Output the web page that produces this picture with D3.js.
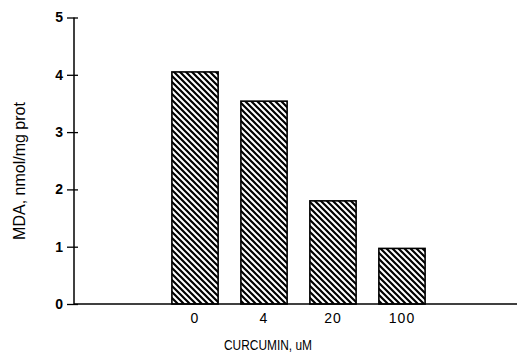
<!DOCTYPE html>
<html><head><meta charset="utf-8">
<script src="https://cdn.jsdelivr.net/npm/d3@7"></script>
<style>body{margin:0;background:#fff}svg{display:block}</style>
</head><body>
<script>
const categories = ["0", "4", "20", "100"];
const values = [4.05, 3.54, 1.8, 0.97];
const yTicks = [0, 1, 2, 3, 4, 5];
const xTitle = "CURCUMIN, uM";
const yTitle = "MDA, nmol/mg prot";

const W = 519, H = 355;
const svg = d3.select("body").append("svg").attr("width", W).attr("height", H);
const defs = svg.append("defs");
const pat = defs.append("pattern").attr("id", "hatch").attr("patternUnits", "userSpaceOnUse")
  .attr("width", 6).attr("height", 6);
pat.append("path").attr("d", "M-1,-1 L7,7 M-1,5 L1,7 M5,-1 L7,1")
  .attr("stroke", "#000").attr("stroke-width", 2.2);

const x0 = 74, x1 = 517, y0 = 304, y1 = 17.5;
const y = d3.scaleLinear().domain([0, 5]).range([y0, y1]);
const x = d3.scaleBand().domain(categories).range([165, 432]).paddingInner(0.33).paddingOuter(0.1);

const font = "Liberation Sans, Arial, sans-serif";

// bars
svg.selectAll("rect.bar").data(values).join("rect").attr("class", "bar")
  .attr("x", (d, i) => x(categories[i]))
  .attr("y", d => y(d))
  .attr("width", x.bandwidth())
  .attr("height", d => y0 - y(d))
  .attr("fill", "url(#hatch)")
  .attr("stroke", "#000").attr("stroke-width", 1.6);

// y axis
const ya = svg.append("g").attr("transform", `translate(${x0},0)`)
  .call(d3.axisLeft(y).tickValues(yTicks).tickFormat(d3.format("d")).tickSize(0).tickPadding(11));
ya.select(".domain").remove();
ya.selectAll(".tick line").attr("x1", -7).attr("x2", 4).attr("stroke", "#000").attr("stroke-width", 1.3);
ya.selectAll(".tick text").attr("font-family", font).attr("font-size", 14).attr("font-weight", "bold").attr("fill", "#000");
svg.append("line").attr("x1", x0).attr("x2", x0).attr("y1", y1).attr("y2", y0)
  .attr("stroke", "#000").attr("stroke-width", 1.5);

// x axis
svg.append("line").attr("x1", x0).attr("x2", x1).attr("y1", y0).attr("y2", y0)
  .attr("stroke", "#000").attr("stroke-width", 1.5);
const xa = svg.append("g").attr("transform", `translate(0,${y0})`)
  .call(d3.axisBottom(x).tickSize(0).tickPadding(9));
xa.select(".domain").remove();
xa.selectAll(".tick text").attr("font-family", font).attr("font-size", 14).attr("fill", "#000")
  .attr("letter-spacing", 1);

// titles
svg.append("text").attr("x", 268).attr("y", 350).attr("text-anchor", "middle")
  .attr("font-family", font).attr("font-size", 14).attr("fill", "#000")
  .attr("textLength", 88).attr("lengthAdjust", "spacingAndGlyphs").text(xTitle);
svg.append("text").attr("transform", "translate(25,171) rotate(-90)").attr("text-anchor", "middle")
  .attr("font-family", font).attr("font-size", 16).attr("fill", "#000").text(yTitle);
</script>
</body></html>
